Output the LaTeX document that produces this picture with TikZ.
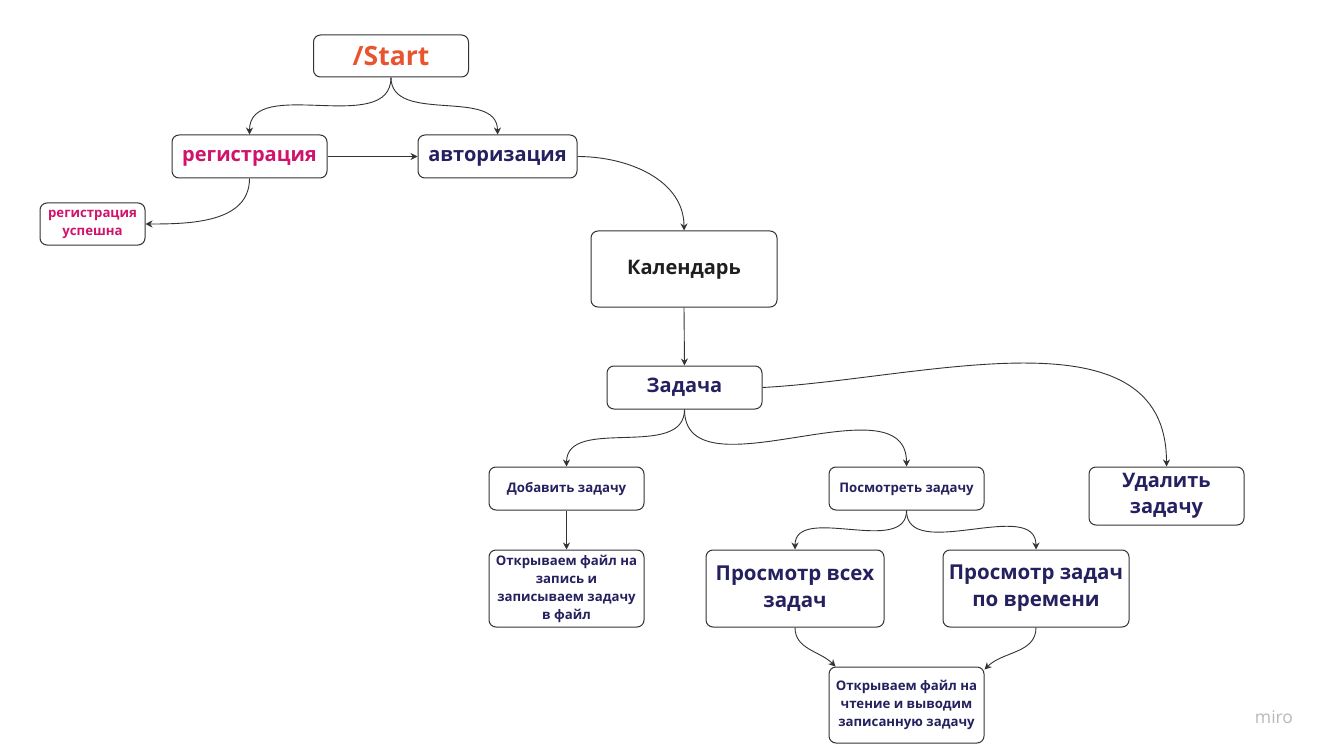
\documentclass[tikz,border=0pt]{standalone}
\usepackage{fontspec}
\setmainfont{Open Sans}
\usetikzlibrary{arrows.meta}
\definecolor{navy}{HTML}{25215F}
\definecolor{startc}{HTML}{E8542E}
\definecolor{regc}{HTML}{D0136B}
\definecolor{edgec}{HTML}{333333}
\definecolor{miroc}{HTML}{B8B8BF}
\tikzset{
  box/.style={draw=edgec, line width=1pt, rounded corners=7pt, align=center, inner sep=0pt, fill=white},
  conn/.style={draw=edgec, line width=0.9pt, -{Stealth[length=7pt,width=7pt]}},
  big/.style={font=\bfseries\fontsize{26.5}{30}\selectfont},
  mid/.style={font=\bfseries\fontsize{20}{24}\selectfont, text height=15pt, text depth=4.3pt},
  midtwo/.style={font=\bfseries\fontsize{20.5}{27}\selectfont},
  sm/.style={font=\bfseries\fontsize{13.2}{18}\selectfont},
  smone/.style={sm, text height=10pt, text depth=3pt},
}
\begin{document}
\begin{tikzpicture}[x=1pt,y=-1pt]
\useasboundingbox[fill=white] (0,0) rectangle (1325,754);
\node[box,big,text=startc,minimum width=155pt,minimum height=42pt] (start) at (391,56) {/Start};
\node[box,mid,text=regc,minimum width=155pt,minimum height=43pt] (reg) at (249.5,156.5) {регистрация};
\node[box,mid,text=navy,minimum width=159pt,minimum height=43pt] (auth) at (497.5,156.5) {авторизация};
\node[box,sm,text=regc,minimum width=105pt,minimum height=42pt] (ok) at (92.5,224) {регистрация\\успешна};
\node[box,mid,text=black!88,minimum width=186pt,minimum height=76pt] (cal) at (684,269) {Календарь};
\node[box,mid,text=navy,minimum width=155pt,minimum height=43pt] (task) at (684.5,387.5) {Задача};
\node[box,smone,text=navy,minimum width=155pt,minimum height=43pt] (add) at (566.5,488.5) {Добавить задачу};
\node[box,smone,text=navy,minimum width=155pt,minimum height=43pt] (view) at (906.5,488.5) {Посмотреть задачу};
\node[box,midtwo,text=navy,minimum width=155pt,minimum height=58pt,font=\bfseries\fontsize{20}{26}\selectfont] (del) at (1166.5,496) {Удалить\\задачу};
\node[box,sm,text=navy,minimum width=155pt,minimum height=77pt] (write) at (566.5,588.5) {Открываем файл на\\запись и\\записываем задачу\\в файл};
\node[box,midtwo,text=navy,minimum width=178pt,minimum height=77pt] (all) at (795,588.5) {Просмотр всех\\задач};
\node[box,midtwo,text=navy,minimum width=186pt,minimum height=77pt] (time) at (1036,588.5) {Просмотр задач\\по времени};
\node[box,sm,text=navy,minimum width=155pt,minimum height=76pt] (read) at (906.5,705) {Открываем файл на\\чтение и выводим\\записанную задачу};
\node[text=miroc,font=\fontsize{17.5}{20}\selectfont] (miro) at (1274,717) {miro};

\draw[conn] (start.south) to[out=-90,in=90] (reg.north);
\draw[conn] (start.south) to[out=-90,in=90] (auth.north);
\draw[conn] (reg.east) -- (auth.west);
\draw[conn] (reg.south) to[out=-90,in=0] (ok.east);
\draw[conn] (auth.east) to[out=0,in=90] (cal.north);
\draw[conn] (cal.south) -- (task.north);
\draw[conn] (task.south) to[out=-90,in=90] (add.north);
\draw[conn] (task.south) to[out=-90,in=90] (view.north);
\draw[conn] (task.east) to[out=3,in=90] (del.north);
\draw[conn] (add.south) -- (write.north);
\draw[conn] (view.south) to[out=-90,in=90] (all.north);
\draw[conn] (view.south) to[out=-90,in=90] (time.north);
\draw[conn] (all.south) to[out=-90,in=135] ([xshift=7pt]read.north west);
\draw[conn] (time.south) to[out=-90,in=45] ([yshift=-3pt]read.north east);
\end{tikzpicture}
\end{document}
